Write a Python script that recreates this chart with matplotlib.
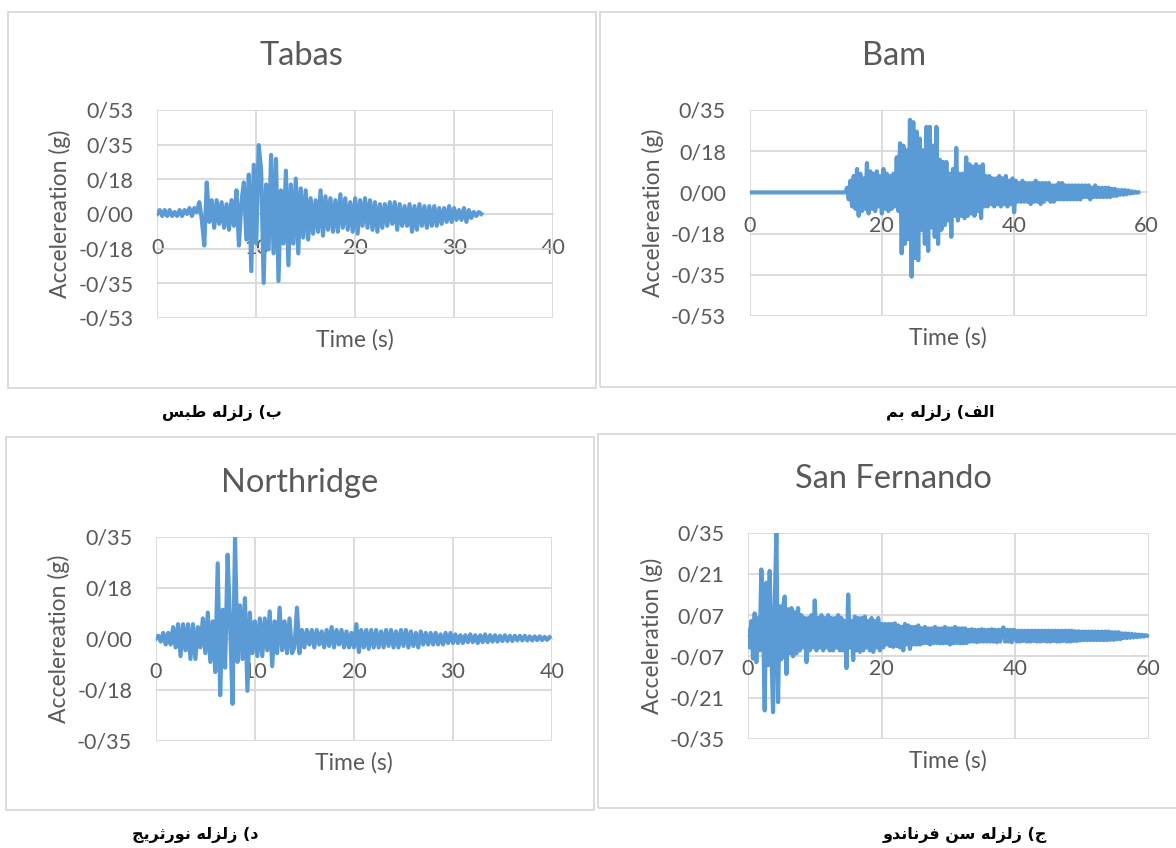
import numpy as np
import matplotlib
matplotlib.use("Agg")
import matplotlib.pyplot as plt
from matplotlib.patches import Rectangle
from matplotlib.ticker import FuncFormatter

# sampling step of the digitised accelerograms (s)
dt = 0.25

# acceleration (g), one row per second of record
tabas_acc = [
    0.00, 0.02, -0.01, 0.02,
    -0.01, 0.02, -0.01, 0.01,
    -0.01, 0.02, -0.01, 0.02,
    0.00, 0.03, -0.01, 0.03,
    0.01, 0.06, -0.03, -0.16,
    0.16, -0.04, 0.07, -0.07,
    0.07, -0.05, 0.06, -0.07,
    0.05, -0.08, 0.07, -0.06,
    0.12, -0.16, 0.06, 0.16,
    -0.13, 0.20, -0.29, 0.25,
    -0.15, 0.35, 0.22, -0.35,
    0.15, -0.18, 0.30, -0.20,
    0.28, -0.34, 0.12, -0.15,
    0.22, -0.26, 0.15, -0.15,
    0.18, -0.20, 0.13, -0.12,
    0.12, -0.13, 0.08, -0.10,
    0.07, -0.09, 0.12, -0.11,
    0.09, -0.08, 0.08, -0.09,
    0.07, -0.09, 0.10, -0.07,
    0.08, -0.08, 0.06, -0.09,
    0.08, -0.10, 0.07, -0.06,
    0.08, -0.07, 0.07, -0.08,
    0.06, -0.09, 0.05, -0.07,
    0.05, -0.06, 0.06, -0.05,
    0.06, -0.08, 0.05, -0.06,
    0.04, -0.06, 0.05, -0.09,
    0.04, -0.08, 0.05, -0.06,
    0.04, -0.07, 0.04, -0.06,
    0.04, -0.06, 0.03, -0.05,
    0.03, -0.04, 0.04, -0.04,
    0.03, -0.03, 0.02, -0.03,
    0.03, -0.04, 0.02, -0.02,
    0.01, -0.01, 0.01, 0.00,
]

bam_acc = [
    0.0, 0.0, 0.0, 0.0,
    0.0, 0.0, 0.0, 0.0,
    0.0, 0.0, 0.0, 0.0,
    0.0, 0.0, 0.0, 0.0,
    0.0, 0.0, 0.0, 0.0,
    0.0, 0.0, 0.0, 0.0,
    0.0, 0.0, 0.0, 0.0,
    0.0, 0.0, 0.0, 0.0,
    0.0, 0.0, 0.0, 0.0,
    0.0, 0.0, 0.0, 0.0,
    0.0, 0.0, 0.0, 0.0,
    0.0, 0.0, 0.0, 0.0,
    0.0, 0.0, 0.0, 0.0,
    0.0, 0.0, 0.0, 0.0,
    0.0, 0.0, 0.0, 0.02,
    -0.03, 0.05, -0.06, 0.07,
    -0.07, 0.10, -0.10, 0.08,
    -0.08, 0.06, -0.07, 0.125,
    -0.09, 0.09, -0.07, 0.08,
    -0.08, 0.09, -0.06, 0.07,
    -0.09, 0.10, -0.07, 0.08,
    -0.08, 0.07, -0.07, 0.08,
    -0.06, 0.15, -0.08, 0.21,
    -0.26, 0.20, -0.22, 0.18,
    -0.20, 0.31, -0.36, 0.30,
    -0.28, 0.26, -0.29, 0.23,
    -0.16, 0.18, -0.22, 0.28,
    -0.25, 0.28, -0.15, 0.20,
    -0.19, 0.28, -0.22, 0.14,
    -0.16, 0.13, -0.14, 0.13,
    -0.12, 0.08, -0.19, 0.10,
    -0.10, 0.19, -0.12, 0.08,
    -0.10, 0.08, -0.11, 0.15,
    -0.10, 0.12, -0.09, 0.11,
    -0.10, 0.12, -0.08, 0.11,
    -0.11, 0.12, -0.06, 0.07,
    -0.06, 0.07, -0.05, 0.06,
    -0.06, 0.06, -0.05, 0.07,
    -0.06, 0.06, -0.05, 0.07,
    -0.06, 0.05, -0.05, 0.06,
    -0.085, 0.05, -0.04, 0.04,
    -0.04, 0.05, -0.04, 0.04,
    -0.04, 0.04, -0.05, 0.04,
    -0.04, 0.05, -0.04, 0.04,
    -0.05, 0.04, -0.04, 0.04,
    -0.03, 0.04, -0.04, 0.03,
    -0.04, 0.03, -0.03, 0.04,
    -0.03, 0.04, -0.03, 0.03,
    -0.03, 0.03, -0.03, 0.03,
    -0.03, 0.03, -0.03, 0.03,
    -0.03, 0.03, -0.02, 0.03,
    -0.02, 0.03, -0.03, 0.02,
    -0.02, 0.03, -0.02, 0.02,
    -0.02, 0.02, -0.02, 0.02,
    -0.02, 0.02, -0.02, 0.015,
    -0.015, 0.015, -0.015, 0.01,
    -0.01, 0.01, -0.01, 0.01,
    -0.008, 0.008, -0.005, 0.005,
    -0.003, 0.003, -0.001, 0.0,
]

northridge_acc = [
    0.00, 0.01, -0.01, 0.02,
    -0.02, 0.02, -0.02, 0.04,
    -0.03, 0.05, -0.06, 0.05,
    -0.04, 0.05, -0.07, 0.05,
    -0.07, 0.04, -0.03, 0.07,
    -0.05, 0.09, -0.08, 0.06,
    -0.115, 0.26, -0.195, 0.10,
    -0.10, 0.29, 0.05, -0.225,
    0.35, -0.08, 0.115, -0.07,
    0.14, -0.18, 0.09, -0.05,
    0.06, -0.06, 0.07, -0.06,
    0.07, -0.04, 0.094, -0.095,
    0.06, -0.05, 0.107, -0.04,
    0.06, -0.05, 0.07, -0.05,
    -0.03, 0.107, -0.05, 0.03,
    -0.03, 0.03, -0.02, 0.03,
    -0.03, 0.03, -0.02, 0.025,
    -0.03, 0.03, -0.025, 0.04,
    -0.03, 0.03, -0.02, 0.03,
    -0.03, 0.025, -0.03, 0.02,
    -0.03, 0.05, -0.046, 0.03,
    -0.03, 0.03, -0.035, 0.03,
    -0.03, 0.03, -0.03, 0.025,
    -0.03, 0.03, -0.025, 0.03,
    -0.03, 0.025, -0.03, 0.03,
    -0.025, 0.03, -0.03, 0.025,
    -0.025, 0.02, -0.03, 0.025,
    -0.02, 0.02, -0.02, 0.02,
    -0.02, 0.02, -0.02, 0.015,
    -0.02, 0.02, -0.015, 0.02,
    -0.015, 0.015, -0.015, 0.012,
    -0.015, 0.012, -0.012, 0.015,
    -0.012, 0.012, -0.015, 0.012,
    -0.012, 0.015, -0.012, 0.012,
    -0.01, 0.012, -0.01, 0.01,
    -0.008, 0.012, -0.008, 0.01,
    -0.008, 0.01, -0.006, 0.01,
    -0.006, 0.01, -0.006, 0.008,
    -0.006, 0.008, -0.005, 0.008,
    -0.005, 0.006, -0.004, 0.005,
]

sanfernando_acc = [
    0.02, -0.04, 0.05, -0.078,
    0.076, -0.09, 0.06, -0.05,
    0.225, 0.05, -0.254, 0.18,
    -0.10, 0.22, -0.05, -0.26,
    0.10, 0.36, -0.226, 0.10,
    -0.08, 0.10, 0.133, -0.13,
    0.09, -0.06, 0.094, -0.07,
    0.08, -0.06, 0.094, -0.05,
    0.07, -0.04, 0.06, -0.09,
    0.06, -0.05, 0.07, -0.04,
    0.12, -0.05, 0.06, -0.04,
    0.07, -0.05, 0.06, -0.04,
    0.07, -0.05, 0.06, -0.05,
    0.06, -0.04, 0.07, -0.05,
    0.06, -0.05, 0.05, -0.11,
    0.14, -0.04, 0.05, -0.083,
    0.065, -0.05, 0.06, -0.055,
    0.06, -0.05, 0.065, -0.04,
    0.05, -0.05, 0.06, -0.055,
    0.05, -0.04, 0.06, -0.05,
    0.04, -0.04, 0.04, -0.03,
    0.04, -0.035, 0.04, -0.038,
    0.042, -0.035, 0.035, -0.04,
    0.03, -0.05, 0.04, -0.03,
    0.035, -0.045, 0.03, -0.03,
    0.03, -0.03, 0.035, -0.03,
    0.025, -0.026, 0.03, -0.025,
    0.025, -0.03, 0.025, -0.026,
    0.03, -0.025, 0.025, -0.026,
    0.025, -0.026, 0.03, -0.025,
    0.025, -0.03, 0.025, -0.026,
    0.03, -0.025, 0.025, -0.026,
    0.025, -0.026, 0.025, -0.025,
    0.02, -0.02, 0.022, -0.02,
    0.02, -0.022, 0.02, -0.02,
    0.022, -0.02, 0.02, -0.02,
    0.02, -0.02, 0.022, -0.02,
    0.02, -0.022, 0.02, -0.02,
    0.02, 0.028, -0.02, 0.02,
    -0.02, 0.02, -0.022, 0.02,
    0.017, -0.02, 0.017, -0.02,
    0.017, -0.018, 0.017, -0.02,
    0.017, -0.02, 0.017, -0.018,
    0.017, -0.02, 0.017, -0.02,
    0.017, -0.018, 0.017, -0.02,
    0.017, -0.02, 0.017, -0.018,
    0.017, -0.02, 0.017, -0.02,
    0.017, -0.018, 0.017, -0.02,
    0.017, -0.02, 0.017, -0.018,
    0.015, -0.018, 0.015, -0.016,
    0.014, -0.015, 0.014, -0.015,
    0.014, -0.015, 0.014, -0.015,
    0.014, -0.015, 0.014, -0.015,
    0.014, -0.015, 0.014, -0.015,
    0.014, -0.014, 0.012, -0.014,
    0.012, -0.012, 0.012, -0.012,
    0.008, -0.008, 0.008, -0.008,
    0.007, -0.007, 0.006, -0.006,
    0.005, -0.005, 0.004, -0.004,
    0.003, -0.003, 0.002, 0.0,
]

titles = ["Tabas", "Bam", "Northridge", "San Fernando"]
ylabels = ["Accelereation (g)", "Accelereation (g)", "Accelereation (g)", "Acceleration (g)"]
yticks = [
    [-0.528, -0.352, -0.176, 0.0, 0.176, 0.352, 0.528],
    [-0.528, -0.352, -0.176, 0.0, 0.176, 0.352],
    [-0.352, -0.176, 0.0, 0.176, 0.352],
    [-0.35, -0.21, -0.07, 0.07, 0.21, 0.35],
]
xticks = [
    [0, 10, 20, 30, 40],
    [0, 20, 40, 60],
    [0, 10, 20, 30, 40],
    [0, 20, 40, 60],
]

# Persian captions in visual (left-to-right) order with Arabic presentation
# forms, since matplotlib does no bidi reordering or glyph shaping
w_zelzele = "\ufeea\ufedf\ufeb0\ufedf\ufeaf"
captions = [
    "\ufeb2\ufe92\ufec3 " + w_zelzele + " (\ufe8f",
    "\ufee2\ufe91 " + w_zelzele + " (\ufed2\ufedf\ufe8d",
    "\ufe9e\ufef3\ufeae\ufe9b\ufead\ufeee\ufee7 " + w_zelzele + " (\ufea9",
    "\ufeed\ufeaa\ufee7\ufe8e\ufee7\ufeae\ufed3 \ufee6\ufeb3 " + w_zelzele + " (\ufe9d",
]

records = [tabas_acc, bam_acc, northridge_acc, sanfernando_acc]

W, H = 1176, 848
BLUE = "#5B9BD5"
GRID = "#D9D9D9"
TXT = "#595959"

plt.rcParams["font.family"] = ["Lato", "DejaVu Sans"]

fig = plt.figure(figsize=(W / 100, H / 100), dpi=100)
fig.patch.set_facecolor("white")

# pixel layout: chart frame, plot area, caption centre
frames = [(7.7, 11.7, 596, 388.3), (599.7, 11.7, 1180, 386.7),
          (5.7, 437.3, 594, 810), (598, 434, 1180, 808.3)]
plots = [(157.3, 110, 553, 318), (749.5, 110, 1146.5, 316),
         (155.8, 536.7, 552, 740.7), (748, 532.7, 1148.7, 738.7)]
title_y = [56, 56, 483, 479]
ylabel_x = [60, 653, 59, 652]
caption_xy = [(222, 413), (940, 413), (195, 835), (965, 835)]


def fmt(v, pos):
    s = "%.2f" % v
    if s == "-0.00":
        s = "0.00"
    return s.replace(".", "/")


for i in range(4):
    fl, ft, fr, fb = frames[i]
    fig.add_artist(Rectangle((fl / W, 1 - fb / H), (fr - fl) / W, (fb - ft) / H,
                             transform=fig.transFigure, fill=False,
                             edgecolor=GRID, lw=1.3))
    l, t, r, b = plots[i]
    ax = fig.add_axes([l / W, 1 - b / H, (r - l) / W, (b - t) / H])
    acc = np.array(records[i])
    time = np.arange(len(acc)) * dt
    ax.plot(time, acc, color=BLUE, lw=3.0, zorder=3)

    ax.set_xlim(xticks[i][0], xticks[i][-1])
    ax.set_ylim(yticks[i][0], yticks[i][-1])
    ax.set_xticks(xticks[i])
    ax.set_yticks(yticks[i])
    ax.yaxis.set_major_formatter(FuncFormatter(fmt))
    ax.grid(True, color=GRID, lw=1.3, zorder=0)
    ax.set_axisbelow(True)
    for s in ["top", "right", "left"]:
        ax.spines[s].set_visible(False)
    ax.spines["bottom"].set_position(("data", 0))
    ax.spines["bottom"].set_color(GRID)
    ax.spines["bottom"].set_linewidth(1.3)
    ax.tick_params(axis="y", length=0, pad=17, labelsize=15.5, labelcolor=TXT)
    ax.tick_params(axis="x", length=0, pad=17, labelsize=15.5, labelcolor=TXT)

    cx = (fl + fr) / 2 if i % 2 == 0 else (fl + 1188) / 2
    fig.text(cx / W, 1 - title_y[i] / H, titles[i], ha="center", va="center",
             fontsize=23.5, color=TXT)
    fig.text(ylabel_x[i] / W, 1 - (t + b) / 2 / H, ylabels[i], rotation=90,
             ha="center", va="center", fontsize=16.5, color=TXT)
    fig.text((l + r) / 2 / W, 1 - (b + 22) / H, "Time (s)", ha="center",
             va="center", fontsize=16.5, color=TXT)
    cxp, cyp = caption_xy[i]
    fig.text(cxp / W, 1 - cyp / H, captions[i], ha="center", va="center",
             fontsize=11.5, fontweight="bold", family=["DejaVu Sans"],
             color="black")

fig.savefig("out.png", dpi=100)
